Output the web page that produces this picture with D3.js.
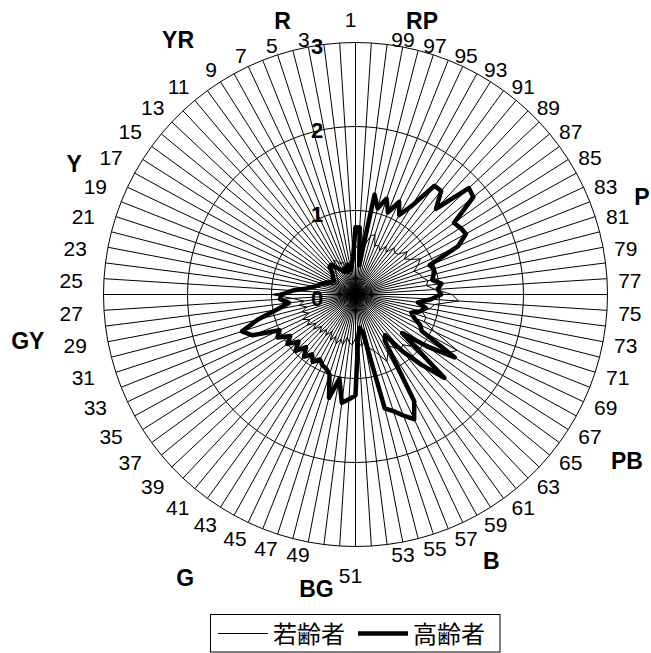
<!DOCTYPE html>
<html>
<head>
<meta charset="utf-8">
<script src="https://cdn.jsdelivr.net/npm/d3@7"></script>
<style>
  body { margin: 0; background: #fff; }
  text { font-family: "Liberation Sans", Arial, sans-serif; fill: #000; }
</style>
</head>
<body>
<svg id="chart" width="651" height="653"></svg>
<script>
// 100 hue steps, counted anticlockwise from the top
const categories = d3.range(1, 101).map(String);

const youngValues = [
  0.55, 0.45, 0.40, 0.35, 0.40, 0.35, 0.42, 0.40, 0.45, 0.48,
  0.42, 0.38, 0.33, 0.30, 0.27, 0.25, 0.24, 0.26, 0.28, 0.32,
  0.36, 0.45, 0.55, 0.60, 0.72, 1.00, 0.75, 0.62, 0.68, 0.60,
  0.67, 0.60, 0.70, 0.62, 0.68, 0.58, 0.65, 0.55, 0.62, 0.54,
  0.60, 0.52, 0.62, 0.55, 0.63, 0.56, 0.62, 0.52, 0.58, 0.60,
  0.52, 0.58, 0.62, 0.55, 0.66, 0.70, 0.78, 0.88, 0.80, 0.72,
  0.78, 0.85, 0.82, 0.90, 0.85, 0.95, 1.30, 1.38, 1.05, 0.88,
  0.88, 0.82, 0.90, 0.95, 1.23, 1.15, 0.95, 0.85, 0.88, 0.82,
  0.80, 0.75, 0.82, 0.88, 0.78, 0.72, 0.80, 0.70, 0.68, 0.72,
  0.62, 0.68, 0.60, 0.65, 0.62, 0.75, 0.72, 0.60, 0.55, 0.60
];

const elderValues = [
  0.80, 0.45, 0.35, 0.30, 0.36, 0.28, 0.34, 0.30, 0.33, 0.36,
  0.40, 0.46, 0.45, 0.38, 0.35, 0.33, 0.30, 0.32, 0.34, 0.38,
  0.42, 0.45, 0.50, 0.58, 0.75, 0.88, 0.90, 0.80, 0.95, 1.20,
  1.42, 1.32, 1.00, 1.06, 0.92, 1.00, 0.88, 0.98, 0.86, 0.96,
  0.88, 0.95, 0.88, 0.93, 0.95, 1.00, 1.27, 1.02, 1.30, 1.25,
  1.20, 0.50, 0.40, 0.45, 1.40, 1.46, 1.55, 1.64, 1.45, 0.65,
  0.60, 0.88, 1.15, 1.45, 0.72, 1.05, 1.40, 0.90, 0.85, 0.75,
  0.70, 0.80, 0.85, 0.75, 0.90, 1.02, 0.98, 1.03, 0.93, 0.96,
  0.98, 0.95, 1.35, 1.50, 1.48, 1.45, 1.82, 1.85, 1.40, 1.60,
  1.60, 1.25, 1.08, 1.22, 1.05, 1.20, 1.06, 1.21, 0.35, 0.80
];

const radialTicks = [0, 1, 2, 3];

// hue names and the step they sit beside
const hueNames = ["R", "YR", "Y", "GY", "G", "BG", "B", "PB", "P", "RP"];
const hueAt = [5.15, 10.7, 19.1, 28.25, 42.4, 48.9, 58.5, 67.25, 81.2, 97.2];

const seriesNames = ["若齢者", "高齢者"];

const cx = 355.5;
const cy = 294.5;
const outerR = 252;
// label distance from the centre, in value units
const hueDist = [3.37, 3.69, 3.69, 3.94, 3.94, 3.54, 3.56, 3.79, 3.60, 3.35];

const svg = d3.select("#chart");

const r = d3.scaleLinear().domain([0, 3]).range([0, outerR]);
// step index -> angle, anticlockwise
const angle = d3.scaleLinear().domain([0, categories.length]).range([0, -2 * Math.PI]);

const px = (i, v) => cx + r(v) * Math.sin(angle(i));
const py = (i, v) => cy - r(v) * Math.cos(angle(i));

const plot = svg.append("g").attr("transform", `translate(${cx},${cy})`);

const radial = d3.lineRadial()
  .angle((d, i) => angle(i))
  .radius((d) => r(d))
  .curve(d3.curveLinearClosed);

// grid polygons
plot.selectAll("path.ring")
  .data(radialTicks.filter((t) => t > 0))
  .join("path")
  .attr("class", "ring")
  .attr("d", (t) => radial(categories.map(() => t)))
  .attr("fill", "none")
  .attr("stroke", "#000")
  .attr("stroke-width", 1);

// spokes
plot.selectAll("line.spoke")
  .data(categories)
  .join("line")
  .attr("class", "spoke")
  .attr("x1", 0)
  .attr("y1", 0)
  .attr("x2", (d, i) => r(3) * Math.sin(angle(i)))
  .attr("y2", (d, i) => -r(3) * Math.cos(angle(i)))
  .attr("stroke", "#000")
  .attr("stroke-width", 1);

// series
plot.append("path")
  .attr("d", radial(youngValues))
  .attr("fill", "none")
  .attr("stroke", "#000")
  .attr("stroke-width", 1)
  .attr("stroke-linejoin", "round");

plot.append("path")
  .attr("d", radial(elderValues))
  .attr("fill", "none")
  .attr("stroke", "#000")
  .attr("stroke-width", 4.5)
  .attr("stroke-linejoin", "round");

// category labels (odd steps only)
const labelGap = 8;
svg.append("g")
  .selectAll("text")
  .data(categories.map((c, i) => ({ c, i })).filter((d) => d.i % 2 === 0))
  .join("text")
  .attr("font-size", 21)
  .each(function (d) {
    const a = angle(d.i);
    const dx = Math.sin(a);
    const dy = -Math.cos(a);
    const ax = cx + (outerR + labelGap) * dx;
    const ay = cy + (outerR + labelGap) * dy;
    const el = d3.select(this);
    if (Math.abs(dx) < 0.01) {
      el.attr("text-anchor", "middle")
        .attr("x", ax - 5)
        .attr("y", ay + Math.sign(dy) * 18 + 10);
    } else {
      el.attr("text-anchor", dx > 0 ? "start" : "end")
        .attr("x", ax + Math.sign(dx) * 8.2 - 5)
        .attr("y", ay + 10);
    }
  })
  .text((d) => d.c);

// value axis labels
svg.append("g")
  .selectAll("text")
  .data(radialTicks)
  .join("text")
  .attr("font-size", 22)
  .attr("font-weight", "bold")
  .attr("text-anchor", "middle")
  .attr("x", 317)
  .attr("y", (t) => cy - r(t) + 11)
  .text((t) => t);

// hue names
svg.append("g")
  .selectAll("text")
  .data(hueNames)
  .join("text")
  .attr("font-size", 23)
  .attr("font-weight", "bold")
  .attr("text-anchor", "middle")
  .attr("x", (d, i) => px(hueAt[i] - 1, hueDist[i]))
  .attr("y", (d, i) => py(hueAt[i] - 1, hueDist[i]) + 8)
  .text((d) => d);

// legend
const legend = svg.append("g");
legend.append("rect")
  .attr("x", 210.5).attr("y", 614.5)
  .attr("width", 289.5).attr("height", 37.5)
  .attr("fill", "#fff").attr("stroke", "#000").attr("stroke-width", 1);

const legendItems = [
  { name: seriesNames[0], x: 218, w: 1 },
  { name: seriesNames[1], x: 358, w: 4.5 }
];
legendItems.forEach((item) => {
  legend.append("line")
    .attr("x1", item.x).attr("x2", item.x + 50)
    .attr("y1", 633.5).attr("y2", 633.5)
    .attr("stroke", "#000").attr("stroke-width", item.w);
  legend.append("text")
    .attr("x", item.x + 55)
    .attr("y", 643)
    .attr("font-size", 24)
    .style("font-family", "'Noto Sans CJK JP', sans-serif")
    .text(item.name);
});
</script>
</body>
</html>
